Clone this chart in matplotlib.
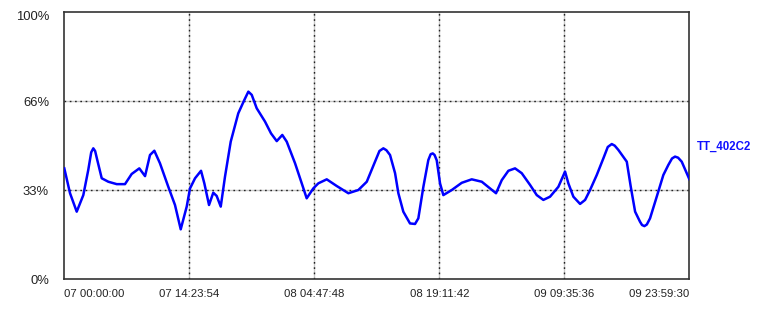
import matplotlib
matplotlib.use("Agg")
import matplotlib.pyplot as plt
from matplotlib.transforms import ScaledTranslation

# time in hours from "07 00:00:00", value in percent
hours = [0.00, 0.66, 1.43, 2.19, 2.76, 3.10, 3.34, 3.55, 3.80, 4.31, 5.07, 6.04, 6.99, 7.76, 8.64, 9.30,
         9.87, 10.37, 11.02, 11.98, 12.75, 13.41, 14.10, 14.48, 15.06, 15.75, 16.13, 16.67,
         17.16, 17.55, 18.02, 18.51, 19.17, 20.04, 20.74, 21.20, 21.59, 22.16, 23.12, 23.81,
         24.47, 25.11, 25.62, 26.58, 27.35, 27.92, 28.68, 29.26, 30.23, 31.38, 32.72, 33.87,
         34.84, 35.79, 36.30, 36.75, 37.10, 37.52, 38.10, 38.48, 39.05, 39.82, 40.40, 40.78, 41.36, 41.93,
         42.20, 42.44, 42.65, 42.90, 43.28, 43.66, 44.63, 45.78, 46.93, 48.09, 49.04, 49.73, 50.39, 51.15,
         51.92, 52.69, 53.65, 54.42, 55.18, 55.95, 56.91, 57.68, 58.06, 58.64, 59.41, 59.99,
         60.56, 61.33, 62.10, 62.60, 63.06, 63.40, 63.82, 64.79, 65.25, 65.75, 66.32, 66.55, 66.82, 67.10,
         67.47, 68.24, 69.00, 69.58, 70.00, 70.35, 70.70, 71.12, 71.99]
values = [41.5, 32.2, 25.3, 31.5, 40.9, 47.5, 49.0, 48.0, 44.6, 37.8, 36.5, 35.6, 35.6, 39.4, 41.5, 38.6,
          46.5, 48.1, 43.4, 34.6, 27.8, 18.7, 27.2, 34.0, 37.8, 40.6, 35.9, 27.8,
          32.4, 31.2, 27.2, 38.4, 51.5, 62.1, 67.1, 70.2, 69.0, 64.0, 59.0, 54.6,
          51.7, 54.0, 51.5, 43.4, 35.9, 30.3, 34.0, 35.9, 37.4, 34.9, 32.2, 33.4,
          36.5, 44.0, 48.0, 49.0, 48.3, 46.5, 39.7, 32.2, 25.3, 20.9, 20.7, 22.8, 34.6, 44.6,
          46.8, 47.1, 46.5, 44.5, 35.9, 31.5, 33.4, 36.1, 37.4, 36.5, 34.0, 32.2, 37.1, 40.6,
          41.5, 39.7, 35.3, 31.5, 29.7, 30.9, 34.6, 40.3, 35.9, 30.9, 28.2, 29.7,
          33.4, 39.0, 45.3, 49.5, 50.6, 50.0, 48.4, 44.0, 34.6, 25.3, 21.5, 20.3, 19.9, 20.5,
          22.8, 30.9, 39.0, 42.8, 45.2, 45.9, 45.5, 44.0, 37.5]

series_name = "TT_402C2"
tick_step_h = 51834 / 3600.0
xtick_labels = ["07 00:00:00", "07 14:23:54", "08 04:47:48", "08 19:11:42",
                "09 09:35:36", "09 23:59:30"]
ytick_values = [0, 100 / 3, 200 / 3, 100]
ytick_labels = ["0%", "33%", "66%", "100%"]

fig = plt.figure(figsize=(7.7, 3.16), dpi=100)
ax = fig.add_axes([64.3 / 770, 1 - 279.3 / 316, 625 / 770, 267.3 / 316])

xticks = [i * tick_step_h for i in range(len(xtick_labels))]
ax.set_xlim(0, xticks[-1])
ax.set_ylim(0, 100)

# grid: light gray solid under black dots
for xt in xticks[1:-1]:
    ax.axvline(xt, color="#c8c8c8", lw=1.0, zorder=1)
    ax.axvline(xt, color="#222222", lw=1.0, ls=(0, (1.2, 2.6)), zorder=1.5)
for yt in ytick_values[1:-1]:
    ax.axhline(yt, color="#c8c8c8", lw=1.0, zorder=1)
    ax.axhline(yt, color="#222222", lw=1.0, ls=(0, (1.2, 2.6)), zorder=1.5)

ax.plot(hours, values, color="#0000ff", lw=1.8, zorder=3, solid_joinstyle="round")

ax.set_xticks(xticks)
ax.set_xticklabels(xtick_labels, fontsize=8.2, color="#222222", family="Liberation Sans")
labels = ax.get_xticklabels()
labels[0].set_ha("left")
labels[-1].set_ha("right")
ax.set_yticks(ytick_values)
ax.set_yticklabels(ytick_labels, fontsize=9.4, color="#222222", family="Liberation Sans")
ax.tick_params(axis="both", length=0)
ax.tick_params(axis="x", pad=7)
ax.tick_params(axis="y", pad=11)
ylabs = ax.get_yticklabels()
ylabs[-1].set_transform(ylabs[-1].get_transform() + ScaledTranslation(0, -0.04, fig.dpi_scale_trans))

for s in ax.spines.values():
    s.set_color("#333333")
    s.set_linewidth(1.2)

ax.text((697 - 64.3) / 625, (279.3 - 147) / 267.3, series_name, transform=ax.transAxes,
        color="#1010ff", fontsize=8.3, fontweight="bold", family="Liberation Sans",
        ha="left", va="center")

fig.savefig("out.png", dpi=100)
